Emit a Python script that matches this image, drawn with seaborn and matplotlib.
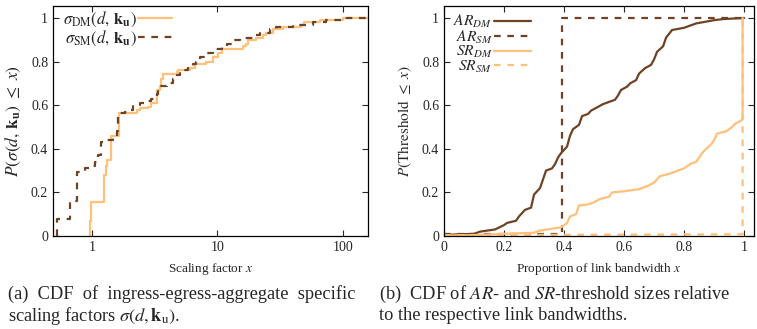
import matplotlib
matplotlib.use("Agg")
import matplotlib.pyplot as plt
import seaborn as sns

sns.set_style("ticks")
plt.rcParams["font.family"] = ["Liberation Serif", "DejaVu Serif"]
plt.rcParams["mathtext.fontset"] = "stix"

ORANGE = "#ffc07a"
BROWN = "#6e4224"

# (a) scaling factors, CDF step points
dm_x = [0.96, 0.96, 0.99, 1.25, 1.29, 1.32, 1.41, 1.64, 2.27, 2.41, 2.81, 2.98, 3.27, 3.48, 3.58,
        3.70, 4.72, 4.86, 6.02, 6.6, 8.17, 9.24, 10.1, 10.8, 16.0, 17.0, 17.5, 20.4, 23.1,
        24.5, 27.7, 33.3, 46.6, 48.6, 65.2, 100, 160]
dm_y = [0.0, 0.07, 0.157, 0.28, 0.32, 0.35, 0.46, 0.565, 0.58, 0.585, 0.59, 0.61, 0.67, 0.69, 0.72,
        0.745, 0.75, 0.76, 0.77, 0.79, 0.80, 0.82, 0.84, 0.86, 0.87, 0.88, 0.90, 0.91, 0.92,
        0.93, 0.95, 0.96, 0.97, 0.98, 0.99, 1.0, 1.0]
sm_x = [0.53, 0.53, 0.67, 0.76, 0.80, 0.88, 0.96, 1.06, 1.12, 1.19, 1.31, 1.48, 1.57, 1.62, 1.67,
        1.83, 2.01, 2.13, 2.41, 2.72, 2.98, 3.27, 3.37, 3.93, 4.44, 4.72, 5.0, 5.84, 6.40,
        6.80, 7.23, 8.17, 9.24, 9.8, 10.8, 11.8, 13.3, 15.1, 19.2, 21.7, 26.1, 29.5, 40,
        57.7, 73.7, 100, 160]
sm_y = [0.0, 0.08, 0.16, 0.295, 0.30, 0.31, 0.32, 0.34, 0.37, 0.43, 0.44, 0.46, 0.48, 0.55, 0.565,
        0.57, 0.58, 0.60, 0.61, 0.62, 0.63, 0.65, 0.69, 0.70, 0.72, 0.74, 0.76, 0.78, 0.79,
        0.80, 0.82, 0.84, 0.85, 0.86, 0.87, 0.88, 0.90, 0.91, 0.92, 0.93, 0.95, 0.96, 0.97,
        0.98, 0.99, 1.0, 1.0]

# (b) threshold sizes relative to link bandwidth
ar_dm_x = [0.0, 0.10, 0.12, 0.17, 0.20, 0.21, 0.24, 0.25, 0.27, 0.29, 0.30, 0.32, 0.33, 0.34, 0.36,
           0.37, 0.38, 0.39, 0.41, 0.42, 0.43, 0.45, 0.46, 0.48, 0.49, 0.51, 0.53, 0.55, 0.57,
           0.58, 0.59, 0.61, 0.62, 0.64, 0.65, 0.67, 0.69, 0.70, 0.71, 0.73, 0.74, 0.76, 0.78,
           0.80, 0.82, 0.84, 0.86, 0.90, 0.93, 1.0]
ar_dm_y = [0.005, 0.01, 0.02, 0.03, 0.05, 0.06, 0.07, 0.09, 0.12, 0.13, 0.19, 0.22, 0.26, 0.30, 0.31,
           0.33, 0.36, 0.38, 0.41, 0.46, 0.49, 0.51, 0.55, 0.56, 0.575, 0.59, 0.605, 0.615, 0.625,
           0.645, 0.67, 0.685, 0.70, 0.715, 0.745, 0.77, 0.785, 0.81, 0.845, 0.87, 0.91, 0.945, 0.95,
           0.955, 0.965, 0.975, 0.98, 0.99, 0.995, 1.0]
ar_sm_x = [0.0, 0.394, 0.394, 1.0]
ar_sm_y = [0.008, 0.008, 1.0, 1.0]
sr_dm_x = [0.0, 0.10, 0.20, 0.30, 0.32, 0.39, 0.41, 0.42, 0.44, 0.45, 0.48, 0.50, 0.52, 0.55, 0.56,
           0.60, 0.65, 0.68, 0.70, 0.72, 0.75, 0.78, 0.80, 0.82, 0.84, 0.86, 0.87, 0.89, 0.90,
           0.91, 0.94, 0.96, 0.97, 0.99, 0.995, 0.995]
sr_dm_y = [0.002, 0.004, 0.01, 0.015, 0.025, 0.04, 0.06, 0.09, 0.10, 0.14, 0.145, 0.155, 0.17, 0.18,
           0.20, 0.205, 0.215, 0.23, 0.245, 0.275, 0.285, 0.30, 0.31, 0.33, 0.34, 0.38, 0.395,
           0.42, 0.44, 0.47, 0.48, 0.50, 0.515, 0.53, 0.535, 1.0]
sr_sm_x = [0.0, 0.995, 0.995]
sr_sm_y = [0.004, 0.008, 1.0]

y_ticks = [0, 0.2, 0.4, 0.6, 0.8, 1.0]
y_labels = ["0", "0.2", "0.4", "0.6", "0.8", "1"]

fig = plt.figure(figsize=(7.57, 3.29), dpi=100)
ax1 = fig.add_axes([53 / 757, 93 / 329, 315 / 757, 230 / 329])
ax2 = fig.add_axes([444 / 757, 93 / 329, 310 / 757, 230 / 329])

dash = (0, (3, 3))
sns.lineplot(x=dm_x, y=dm_y, ax=ax1, color=ORANGE, lw=1.6, drawstyle="steps-post",
             sort=False, estimator=None, label=r"$\sigma_{\mathrm{DM}}(d,\,\mathbf{k}_{\mathbf{u}})$")
sns.lineplot(x=sm_x, y=sm_y, ax=ax1, color=BROWN, lw=1.6, drawstyle="steps-post",
             sort=False, estimator=None, linestyle=dash,
             label=r"$\sigma_{\mathrm{SM}}(d,\,\mathbf{k}_{\mathbf{u}})$")
ax1.set_xscale("log")
ax1.set_xlim(0.49, 158)
ax1.set_xticks([1, 10, 100])
ax1.set_xticklabels(["1", "10", "100"])
ax1.minorticks_off()
ax1.set_xlabel(r"Scaling factor $x$", fontsize=9.5, labelpad=5)
ax1.set_ylabel(r"$P(\sigma(d,\,\mathbf{k}_{\mathbf{u}})\ \leq\ x)$", fontsize=12.5, labelpad=6)
ax1.legend(loc="upper left", bbox_to_anchor=(0.0, 1.025), markerfirst=False, frameon=False,
           fontsize=12, handlelength=2.0, handletextpad=0.1, labelspacing=-0.05, borderaxespad=0.2)

sns.lineplot(x=ar_dm_x, y=ar_dm_y, ax=ax2, color=BROWN, lw=1.6, sort=False, estimator=None,
             label=r"$\mathit{AR}_{\mathit{DM}}$")
sns.lineplot(x=ar_sm_x, y=ar_sm_y, ax=ax2, color=BROWN, lw=1.6, sort=False, estimator=None,
             linestyle=dash, label=r"$\mathit{AR}_{\mathit{SM}}$")
sns.lineplot(x=sr_dm_x, y=sr_dm_y, ax=ax2, color=ORANGE, lw=1.6, sort=False, estimator=None,
             label=r"$\mathit{SR}_{\mathit{DM}}$")
sns.lineplot(x=sr_sm_x, y=sr_sm_y, ax=ax2, color=ORANGE, lw=1.6, sort=False, estimator=None,
             linestyle=dash, label=r"$\mathit{SR}_{\mathit{SM}}$")
ax2.set_xlim(0, 1.033)
ax2.set_xticks([0, 0.2, 0.4, 0.6, 0.8, 1.0])
ax2.set_xticklabels(["0", "0.2", "0.4", "0.6", "0.8", "1"])
ax2.set_xlabel(r"Proportion of link bandwidth $x$", fontsize=9.5, labelpad=5)
ax2.set_ylabel(r"$P(\mathrm{Threshold}\ \leq\ x)$", fontsize=11, labelpad=6)
ax2.legend(loc="upper left", bbox_to_anchor=(0.0, 1.01), markerfirst=False, frameon=False,
           fontsize=11.2, handlelength=2.4, handletextpad=0.1, labelspacing=-0.1, borderaxespad=0.2)

for ax in (ax1, ax2):
    ax.set_ylim(0, 1.055)
    ax.set_yticks(y_ticks)
    ax.set_yticklabels(y_labels)
    ax.tick_params(direction="in", top=True, right=True, labelsize=10, length=4, width=0.8)
    for s in ax.spines.values():
        s.set_linewidth(0.9)
        s.set_color("black")

fig.text(8 / 757, 1 - 294 / 329, "(a)  CDF  of  ingress-egress-aggregate  specific",
         fontsize=13.2, va="center", ha="left")
fig.text(8 / 757, 1 - 316 / 329, r"scaling factors $\sigma(d,\mathbf{k}_{\mathrm{u}})$.",
         fontsize=13.2, va="center", ha="left")
fig.text(379 / 757, 1 - 294 / 329, r"(b)  CDF of $\mathit{AR}$- and $\mathit{SR}$-threshold sizes relative",
         fontsize=13.2, va="center", ha="left")
fig.text(379 / 757, 1 - 316 / 329, "to the respective link bandwidths.",
         fontsize=13.2, va="center", ha="left")

fig.savefig("out.png", dpi=100)
